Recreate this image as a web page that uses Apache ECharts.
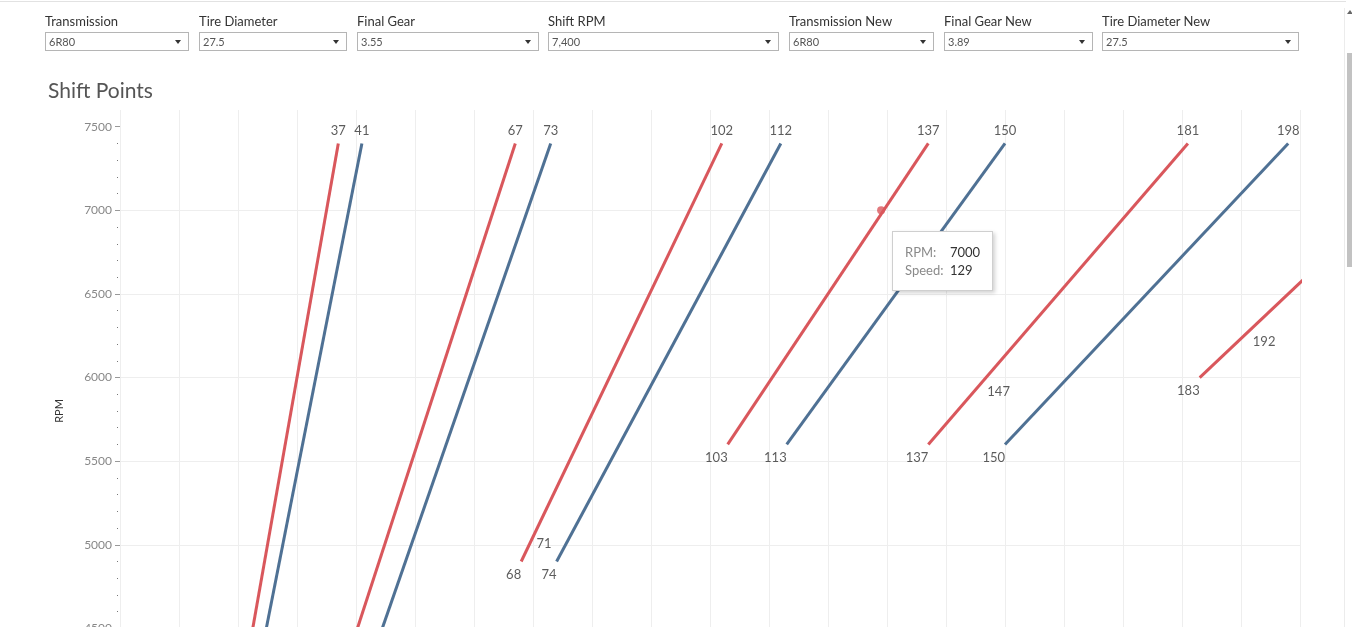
<!DOCTYPE html>
<html>
<head>
<meta charset="utf-8">
<title>Shift Points</title>
<script src="https://cdn.jsdelivr.net/npm/echarts@6/dist/echarts.min.js"></script>
<style>
  html, body { margin: 0; padding: 0; background: #fff; overflow: hidden; }
  #page { position: relative; width: 1352px; height: 627px; overflow: hidden; font-family: Lato, 'Open Sans', sans-serif; }
  #chart { position: absolute; left: 0; top: 0; width: 1352px; height: 770px; }
  .topline { position: absolute; left: 0; top: 1px; width: 1346px; height: 1px; background: #e2e2e2; }
  .filter { position: absolute; top: 13px; z-index: 2; }
  .filter .lbl { font-size: 13px; color: #333; height: 19px; line-height: 17px; white-space: nowrap; }
  .filter .box { position: relative; box-sizing: border-box; height: 19px; border: 1px solid #b5b5b5; background: #fff;
                 font-size: 11px; color: #555; line-height: 17px; padding-left: 3px; }
  .filter .box::after { content: ''; position: absolute; right: 7px; top: 7px; border-left: 3px solid transparent;
                        border-right: 3px solid transparent; border-top: 4px solid #333; }
  .track { position: absolute; left: 1344px; top: 8px; width: 1px; height: 619px; background: #ececec; }
  .thumb { position: absolute; left: 1347px; top: 53px; width: 5px; height: 214px; background: #c2c2c2; }
  .arrow { position: absolute; left: 1347px; top: 10px; border-left: 3px solid transparent; border-right: 3px solid transparent;
           border-bottom: 4px solid #666; }
</style>
</head>
<body>
<div id="page">
  <div class="topline"></div>
  <div class="filter" style="left:45px"><div class="lbl">Transmission</div><div class="box" style="width:144px">6R80</div></div>
  <div class="filter" style="left:199px"><div class="lbl">Tire Diameter</div><div class="box" style="width:148px">27.5</div></div>
  <div class="filter" style="left:357px"><div class="lbl">Final Gear</div><div class="box" style="width:182px">3.55</div></div>
  <div class="filter" style="left:548px"><div class="lbl">Shift RPM</div><div class="box" style="width:231px">7,400</div></div>
  <div class="filter" style="left:789px"><div class="lbl">Transmission New</div><div class="box" style="width:145px">6R80</div></div>
  <div class="filter" style="left:944px"><div class="lbl">Final Gear New</div><div class="box" style="width:149px">3.89</div></div>
  <div class="filter" style="left:1102px"><div class="lbl">Tire Diameter New</div><div class="box" style="width:197px">27.5</div></div>
  <div class="track"></div>
  <div class="arrow"></div>
  <div class="thumb"></div>
  <div id="chart"></div>
</div>
<script>
// speed (mph) / rpm pairs, start and shift point of every gear
// new setup (3.89) - red
const newGearSpeeds = [[20, 37], [37, 67], [68, 102], [103, 137], [137, 181], [183, 225]];
const newGearRpms = [[4000, 7400], [4150, 7400], [4900, 7400], [5600, 7400], [5600, 7400], [6000, 7400]];
// current setup (3.55) - blue
const curGearSpeeds = [[22, 41], [41, 73], [74, 112], [113, 150], [150, 198]];
const curGearRpms = [[4000, 7400], [4150, 7400], [4900, 7400], [5600, 7400], [5600, 7400]];

// extra labelled points along the red lines
const midSpeeds = [70.6, 147, 192];
const midRpms = [5090, 6000, 6300];

// hovered point
const hoverSpeed = 129;
const hoverRpm = 7000;

const rpmTicks = [4000, 4500, 5000, 5500, 6000, 6500, 7000, 7500];

const RED = '#d9575c';
const BLUE = '#4f7194';
const FONT = 'Lato, "Open Sans", sans-serif';

let minorDots = [];
for (let r = 4100; r < 7500; r += 100) {
  if (r % 500 !== 0) minorDots.push(r);
}

const chartDom = document.getElementById('chart');
const chart = echarts.init(chartDom);

const toPoints = (speeds, rpms) => speeds.map((s, i) => [s, rpms[i]]);

let series = [];
let starts = [];
let ends = [];

const addGears = (speedsList, rpmsList, color) => {
  speedsList.forEach((speeds, i) => {
    const pts = toPoints(speeds, rpmsList[i]);
    series.push({
      type: 'line',
      data: pts,
      showSymbol: false,
      silent: true,
      clip: true,
      lineStyle: { color: color, width: 3 },
      itemStyle: { color: color },
      tooltip: { show: false },
    });
    starts.push(pts[0]);
    ends.push(pts[pts.length - 1]);
  });
};

addGears(curGearSpeeds, curGearRpms, BLUE);
addGears(newGearSpeeds, newGearRpms, RED);

const labelStyle = {
  show: true,
  color: '#333',
  fontSize: 13,
  fontFamily: FONT,
  formatter: (p) => Math.round(p.value[0]),
};

const labelSeries = (data, label) => ({
  type: 'scatter',
  data: data,
  symbolSize: 0,
  silent: true,
  clip: true,
  tooltip: { show: false },
  label: Object.assign({}, labelStyle, label),
});

series.push(labelSeries(ends, { position: 'top', distance: 6 }));
series.push(labelSeries(starts, { position: 'bottom', align: 'right', distance: 7 }));
series.push(labelSeries(toPoints(midSpeeds, midRpms), { position: 'bottom', align: 'left', distance: 8 }));

series.push({
  type: 'scatter',
  data: [[hoverSpeed, hoverRpm]],
  symbolSize: 8,
  itemStyle: { color: RED },
  emphasis: { scale: false },
  z: 5,
});
const hoverIndex = series.length - 1;

const option = {
  animation: false,
  title: {
    text: 'Shift Points',
    left: 48,
    top: 81,
    padding: 0,
    textStyle: { fontFamily: FONT, fontSize: 21, fontWeight: 'normal', color: '#555' },
  },
  grid: { left: 120, right: 52, top: 110, bottom: 58 },
  tooltip: {
    trigger: 'item',
    triggerOn: 'none',
    alwaysShowContent: true,
    transitionDuration: 0,
    position: [892, 231],
    backgroundColor: '#fff',
    borderColor: '#cfcfcf',
    borderWidth: 1,
    padding: [11, 12, 11, 12],
    extraCssText: 'border-radius:0;box-shadow:2px 2px 4px rgba(0,0,0,0.18);',
    textStyle: { fontFamily: FONT, fontSize: 13, color: '#333' },
    formatter: (p) =>
      '<div style="line-height:18px">' +
      '<span style="display:inline-block;width:45px;color:#8a8a8a">RPM:</span>' + p.value[1] + '<br>' +
      '<span style="display:inline-block;width:45px;color:#8a8a8a">Speed:</span>' + p.value[0] +
      '</div>',
  },
  xAxis: {
    type: 'value',
    min: 0,
    max: 200,
    interval: 10,
    name: 'Speed',
    nameLocation: 'middle',
    nameGap: 30,
    axisLine: { show: false },
    axisTick: { show: false },
    axisLabel: { color: '#777', fontFamily: FONT, fontSize: 12 },
    splitLine: { show: true, lineStyle: { color: '#eeeeee', width: 1 } },
  },
  yAxis: [
    {
      type: 'value',
      min: 4000,
      max: 7600,
      interval: 500,
      name: 'RPM',
      nameLocation: 'middle',
      nameGap: 55,
      nameTextStyle: { fontFamily: FONT, fontSize: 11, color: '#333' },
      axisLine: { show: false },
      axisTick: { show: true, length: 5, customValues: rpmTicks, lineStyle: { color: '#999' } },
      axisLabel: {
        color: '#888',
        fontFamily: FONT,
        fontSize: 12,
        margin: 8,
        formatter: (v) => (v % 500 === 0 ? v : ''),
      },
      splitLine: { show: true, showMaxLine: false, lineStyle: { color: '#eeeeee', width: 1 } },
    },
    {
      type: 'value',
      min: 4000,
      max: 7600,
      position: 'left',
      offset: 2,
      axisLine: { show: false },
      axisLabel: { show: false },
      splitLine: { show: false },
      axisTick: { show: true, length: 1, customValues: minorDots, lineStyle: { color: '#777' } },
    },
  ],
  series: series,
};

option && chart.setOption(option);

chart.dispatchAction({ type: 'showTip', seriesIndex: hoverIndex, dataIndex: 0 });

window.addEventListener('resize', function () {
  chart.resize();
});
</script>
</body>
</html>
